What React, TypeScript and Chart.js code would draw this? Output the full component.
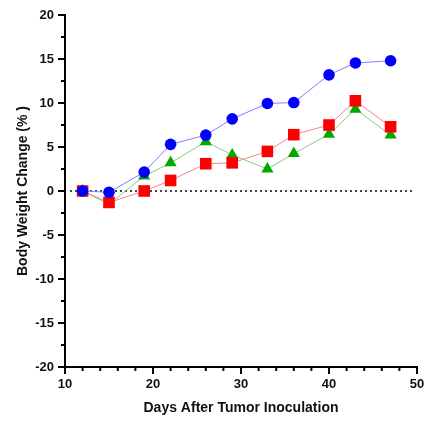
import React, { useEffect, useRef } from "react";
import { Chart, registerables } from "chart.js";

Chart.register(...registerables);

const days = [12, 15, 19, 22, 26, 29, 33, 36, 40, 43, 47];
const blueValues = [0, -0.15, 2.15, 5.3, 6.35, 8.2, 9.95, 10.05, 13.2, 14.55, 14.8];
const redValues = [0, -1.3, 0, 1.2, 3.1, 3.2, 4.5, 6.4, 7.5, 10.25, 7.3];
const greenValues = [0, -1.5, 1.7, 3.2, 5.6, 4.1, 2.5, 4.25, 6.45, 9.3, 6.35];
const xTickLabels = [10, 20, 30, 40, 50];
const yTickLabels = [-20, -15, -10, -5, 0, 5, 10, 15, 20];
const xTitle = "Days After Tumor Inoculation";
const yTitle = "Body Weight Change (% )";

const FONT = "'Liberation Sans', Arial, sans-serif";

const toPoints = (vals: number[]) => days.map((d, i) => ({ x: d, y: vals[i] }));

const axesPlugin = {
  id: "customAxes",
  beforeDatasetsDraw(chart: any) {
    const { ctx, chartArea, scales } = chart;
    const y0 = scales.y.getPixelForValue(0);
    ctx.save();
    ctx.strokeStyle = "#444";
    ctx.lineWidth = 2;
    ctx.setLineDash([2, 3]);
    ctx.beginPath();
    ctx.moveTo(chartArea.left + 5, y0);
    ctx.lineTo(chartArea.right - 2, y0);
    ctx.stroke();
    ctx.restore();
  },
  afterDraw(chart: any) {
    const { ctx, chartArea, scales } = chart;
    const xs = scales.x;
    const ys = scales.y;
    ctx.save();
    ctx.strokeStyle = "#000";
    ctx.lineWidth = 2;
    ctx.lineCap = "butt";
    ctx.beginPath();
    ctx.moveTo(chartArea.left, chartArea.top - 1);
    ctx.lineTo(chartArea.left, chartArea.bottom);
    ctx.moveTo(chartArea.left, chartArea.bottom);
    ctx.lineTo(chartArea.right + 1, chartArea.bottom);
    ctx.stroke();
    ctx.lineWidth = 2;
    for (let v = -20; v <= 20; v += 2.5) {
      const p = ys.getPixelForValue(v);
      const major = yTickLabels.includes(v);
      const len = major ? 7 : 4;
      ctx.beginPath();
      ctx.moveTo(chartArea.left - len, p);
      ctx.lineTo(chartArea.left, p);
      ctx.stroke();
    }
    for (let v = 10; v <= 50; v += 2) {
      const p = xs.getPixelForValue(v);
      const major = xTickLabels.includes(v);
      const len = major ? 7 : 4;
      ctx.beginPath();
      ctx.moveTo(p, chartArea.bottom);
      ctx.lineTo(p, chartArea.bottom + len);
      ctx.stroke();
    }
    ctx.restore();
  },
};

export default function App() {
  const ref = useRef<HTMLCanvasElement | null>(null);
  useEffect(() => {
    if (!ref.current) return;
    const chart = new Chart(ref.current, {
      type: "scatter",
      data: {
        datasets: [
          {
            data: toPoints(blueValues),
            showLine: true,
            borderColor: "#7f7fff",
            borderWidth: 1,
            backgroundColor: "#0000ff",
            pointBackgroundColor: "#0000ff",
            pointBorderColor: "#0000ff",
            pointBorderWidth: 0,
            pointStyle: "circle",
            pointRadius: 5.8,
          },
          {
            data: toPoints(redValues),
            showLine: true,
            borderColor: "#ff8080",
            borderWidth: 1,
            backgroundColor: "#ff0000",
            pointBackgroundColor: "#ff0000",
            pointBorderColor: "#ff0000",
            pointBorderWidth: 0,
            pointStyle: "rect",
            pointRadius: 8.2,
          },
          {
            data: toPoints(greenValues),
            showLine: true,
            borderColor: "#80d080",
            borderWidth: 1,
            backgroundColor: "#00a800",
            pointBackgroundColor: "#00a800",
            pointBorderColor: "#00a800",
            pointBorderWidth: 0,
            pointStyle: "triangle",
            pointRadius: 7,
          },
        ],
      },
      options: {
        animation: false,
        responsive: false,
        layout: { padding: { top: 15, right: 13, left: 0, bottom: 0 } },
        plugins: { legend: { display: false }, tooltip: { enabled: false } },
        scales: {
          x: {
            type: "linear",
            min: 10,
            max: 50,
            grid: { display: false },
            border: { display: false },
            ticks: {
              stepSize: 2,
              autoSkip: false,
              maxRotation: 0,
              padding: 2,
              color: "#111",
              font: { family: FONT, size: 13, weight: "bold" },
              callback: (v: any) => (xTickLabels.includes(Number(v)) ? String(v) : ""),
            },
            title: {
              display: true,
              text: xTitle,
              color: "#111",
              font: { family: FONT, size: 14, weight: "bold" },
              padding: { top: 0, bottom: 6 },
            },
            afterFit: (s: any) => {
              s.height = 56;
            },
          },
          y: {
            type: "linear",
            min: -20,
            max: 20,
            grid: { display: false },
            border: { display: false },
            ticks: {
              stepSize: 2.5,
              autoSkip: false,
              padding: 3,
              color: "#111",
              font: { family: FONT, size: 13, weight: "bold" },
              callback: (v: any) => (yTickLabels.includes(Number(v)) ? String(v) : ""),
            },
            title: {
              display: true,
              text: yTitle,
              color: "#111",
              font: { family: FONT, size: 14, weight: "bold" },
              padding: { top: 15, bottom: 0 },
            },
            afterFit: (s: any) => {
              s.width = 65;
            },
          },
        },
      },
      plugins: [axesPlugin],
    });
    return () => chart.destroy();
  }, []);
  return (
    <div style={{ position: "absolute", left: 0, top: 0, width: 430, height: 423, background: "#fff" }}>
      <canvas ref={ref} width={430} height={423} style={{ display: "block" }} />
    </div>
  );
}
